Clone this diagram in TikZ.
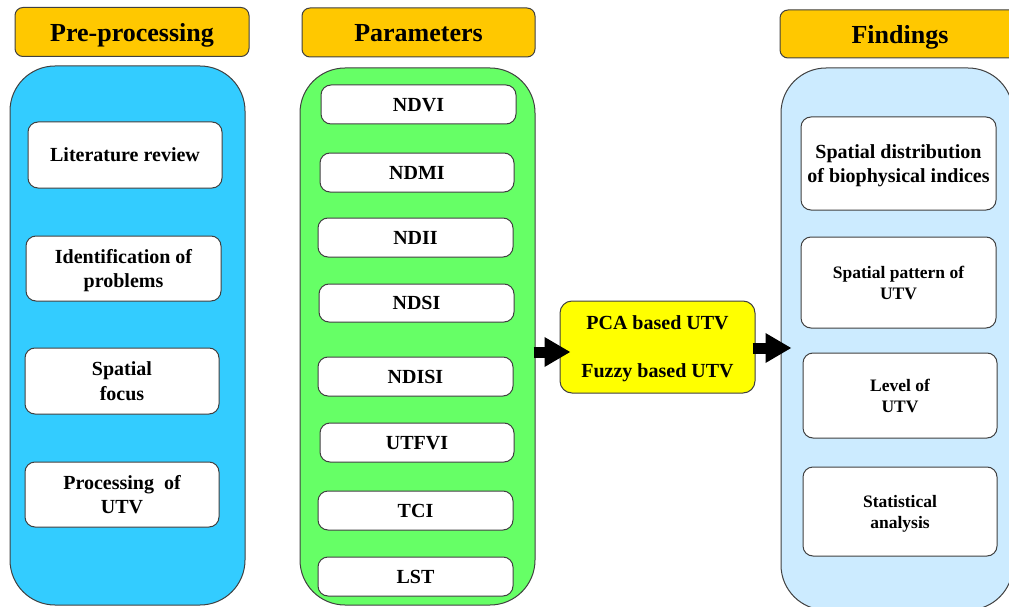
\documentclass[tikz,border=0pt]{standalone}
\usepackage{fontspec}
\setmainfont{Liberation Serif}
\usetikzlibrary{arrows.meta,calc}
\definecolor{hdrfill}{HTML}{FFC800}
\definecolor{prefill}{HTML}{33CCFF}
\definecolor{parfill}{HTML}{66FF66}
\definecolor{finfill}{HTML}{CCEBFF}
\definecolor{midfill}{HTML}{FFFF00}
\definecolor{edge}{HTML}{404040}
\tikzset{
  box/.style={draw=edge, line width=1pt, inner sep=0pt, align=center,
    font=\bfseries},
  header/.style={box, fill=hdrfill, rounded corners=8pt, text depth=-8pt,
    font=\bfseries\fontsize{26}{30}\selectfont},
  column/.style={box, rounded corners=45pt},
  item/.style={box, fill=white, rounded corners=10pt, text depth=-11pt,
    font=\bfseries\fontsize{20}{24.5}\selectfont},
  smallitem/.style={item, text depth=-7pt, font=\bfseries\fontsize{17.5}{21}\selectfont},
  flow/.style={line width=11pt, -{Triangle[length=26pt,width=28pt]}},
}
\begin{document}
\begin{tikzpicture}[x=1pt,y=-1pt]
\useasboundingbox (0,0) rectangle (1009,607);
\begin{scope}
\clip (0,0) rectangle (1009,607);

% headers
\node[header, minimum width=234, minimum height=49] (hpre) at (132,32) {Pre-processing};
\node[header, minimum width=233, minimum height=49] (hpar) at (418.5,32.5) {Parameters};
\node[header, minimum width=240, minimum height=48] (hfin) at (900,34) {Findings};

% columns
\node[column, fill=prefill, minimum width=235, minimum height=539] (pre) at (127.5,335.5) {};
\node[column, fill=parfill, minimum width=235, minimum height=537] (params) at (417.5,336.5) {};
\node[column, fill=finfill, minimum width=232, minimum height=542] (fin) at (897,339) {};

% pre-processing steps
\node[item, minimum width=194, minimum height=66] (lit) at (125,155) {Literature review};
\node[item, minimum width=195, minimum height=65] (ident) at (123.5,268.5) {Identification of\\problems};
\node[item, minimum width=194, minimum height=66] (focus) at (122,381) {Spatial\\focus};
\node[item, minimum width=194, minimum height=65] (proc) at (122,494.5) {Processing~~of\\UTV};

% parameters
\node[item, minimum width=195, minimum height=39] (ndvi) at (418.5,104.5) {NDVI};
\node[item, minimum width=194, minimum height=39] (ndmi) at (417,172.5) {NDMI};
\node[item, minimum width=195, minimum height=39] (ndii) at (415.5,237.5) {NDII};
\node[item, minimum width=195, minimum height=38] (ndsi) at (416.5,303) {NDSI};
\node[item, minimum width=195, minimum height=39] (ndisi) at (415.5,376.5) {NDISI};
\node[item, minimum width=194, minimum height=39] (utfvi) at (417,442.5) {UTFVI};
\node[item, minimum width=195, minimum height=39] (tci) at (415.5,510.5) {TCI};
\node[item, minimum width=195, minimum height=39] (lst) at (415.5,576.5) {LST};

% methods
\node[box, fill=midfill, rounded corners=12pt, minimum width=195, minimum height=92,
  text depth=-8pt, font=\bfseries\fontsize{20}{24}\selectfont] (method) at (657.5,347)
  {PCA based UTV\\[24pt]Fuzzy based UTV};

% findings
\node[item, minimum width=195, minimum height=93] (dist) at (898.5,163.5) {Spatial distribution\\of biophysical indices};
\node[smallitem, minimum width=195, minimum height=91] (pattern) at (898.5,282.5) {Spatial pattern of\\UTV};
\node[smallitem, minimum width=194, minimum height=85] (level) at (900,395.5) {Level of\\UTV};
\node[smallitem, minimum width=194, minimum height=89] (stat) at (900,511.5) {Statistical\\analysis};

% flow arrows
\coordinate (a1s) at ($(params.east |- method.center)+(-2,5)$);
\coordinate (a1e) at ($(method.west)+(11,5)$);
\draw[flow] (a1s) -- (a1e);
\coordinate (a2s) at ($(method.east)+(-3,1)$);
\coordinate (a2e) at ($(fin.west |- method.center)+(11,1)$);
\draw[flow] (a2s) -- (a2e);
\end{scope}
\end{tikzpicture}
\end{document}
